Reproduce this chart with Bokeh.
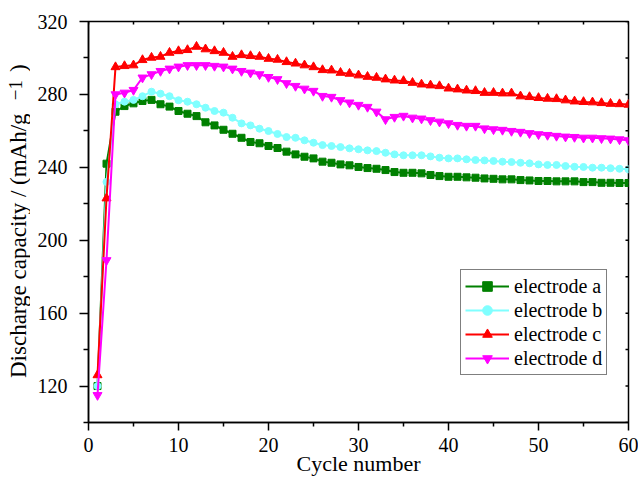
import math

from bokeh.plotting import figure
from bokeh.models import FixedTicker, Range1d, Label
from bokeh.layouts import row
from bokeh.embed import file_html
from bokeh.resources import INLINE

cycles = list(range(1, 61))

electrode_a = [120, 242, 270.5, 273.6, 275.1, 276.4, 277, 274.6, 273.3, 270.9,
               269.4, 268.1, 264.7, 263, 260.6, 258.4, 256.2, 253.9, 253.2, 251.7,
               250.6, 248.6, 247.1, 245.8, 244.9, 243.1, 242.5, 241.6, 241.1, 240.2,
               239.6, 239.2, 238.5, 237.4, 237, 237, 236.7, 235.8, 235.2, 234.8,
               234.8, 234.5, 234.3, 233.9, 233.7, 233.4, 233.4, 233, 232.8, 232.5,
               232.5, 232.3, 232.3, 232.3, 231.9, 231.9, 231.5, 231.5, 231.4, 231.4]

electrode_b = [120, 232, 274.6, 276, 277, 279, 281.5, 280.4, 279, 276.8,
               276, 274.6, 272.7, 270.9, 270, 267.2, 264.1, 263, 261.2, 259.9,
               258.3, 256.6, 256.2, 254.8, 253.5, 252.2, 251.7, 251.1, 250.4, 249.9,
               249.3, 248.9, 248, 247.1, 246.6, 246.6, 246.6, 246, 245.3, 244.9,
               244.9, 244.4, 244, 243.8, 243.5, 243.1, 242.9, 242.5, 242.2, 241.6,
               241.3, 241.3, 240.7, 240.3, 240.2, 239.8, 239.8, 239.5, 239.2, 238.9]

electrode_c = [126, 223, 295, 295.6, 296, 298.9, 300.2, 300.7, 302.9, 303.8,
               304.4, 306.2, 304.8, 303.8, 302.9, 300.7, 301.6, 301.1, 300.7, 299.6,
               299.1, 297.8, 297, 296, 295, 293.4, 293.2, 291.9, 291.4, 290.5,
               289.7, 289.2, 288.3, 287.7, 287.4, 286.4, 285.5, 285, 284.6, 283.3,
               282.8, 282.2, 281.9, 280.9, 280.9, 280.6, 280.6, 279, 278.6, 278.1,
               277.7, 277.5, 276.8, 276.2, 275.9, 275.7, 275.3, 274.9, 274.7, 274.4]

electrode_d = [115, 189, 280, 280.9, 282.4, 289.2, 291, 292.8, 294.1, 295.2,
               296, 296, 296, 295.6, 295.2, 294.1, 292.8, 291.9, 291, 289.5,
               288.3, 286.1, 284.6, 283.1, 281.9, 279.1, 278.6, 276.8, 275.5, 274.2,
               273.1, 270.5, 266.3, 267.6, 268.2, 267.2, 266.7, 265.8, 265, 264.1,
               263.2, 262.7, 262.7, 261.3, 260.8, 260.5, 259.9, 259.4, 258.7, 258.1,
               257.7, 257.2, 256.8, 256.6, 256.2, 256.2, 255.9, 255.7, 255.3, 254.8]

x_ticks = [0, 10, 20, 30, 40, 50, 60]
x_minor = [5, 15, 25, 35, 45, 55]
y_ticks = [120, 160, 200, 240, 280, 320]
y_minor = [100, 140, 180, 220, 260, 300]

FONT = "Liberation Serif"

X_MIN, X_MAX = 0, 60
Y_MIN, Y_MAX = 100, 320
TOP, BOTTOM = 21, 56
TITLE_W = 30  # width of the strip that carries the y-axis title

p = figure(width=638 - TITLE_W, height=478, output_backend="svg",
           toolbar_location=None,
           x_range=Range1d(X_MIN, X_MAX), y_range=Range1d(Y_MIN, Y_MAX),
           min_border_left=88 - TITLE_W, min_border_right=10,
           min_border_top=TOP, min_border_bottom=BOTTOM)

p.xgrid.visible = False
p.ygrid.visible = False
p.outline_line_color = "black"
p.outline_line_width = 1.5

series = [
    ("electrode a", electrode_a, "#008000", "square", 7),
    ("electrode b", electrode_b, "#80FFFF", "circle", 7),
    ("electrode c", electrode_c, "#FF0000", "triangle", 9),
    ("electrode d", electrode_d, "#FF00FF", "inverted_triangle", 9),
]

for name, vals, color, marker, size in series:
    p.line(cycles, vals, line_color=color, line_width=2, legend_label=name)
    p.scatter(cycles, vals, marker=marker, size=size, fill_color=color,
              line_color=color, legend_label=name)

for ax in (p.xaxis[0], p.yaxis[0]):
    ax.axis_line_width = 1.5
    ax.major_tick_line_width = 1.5
    ax.minor_tick_line_width = 1.5
    ax.major_tick_in = 0
    ax.minor_tick_in = 0
    ax.major_label_text_font = FONT
    ax.major_label_text_font_size = "20px"
    ax.major_label_text_color = "black"
    ax.axis_label_text_font = FONT
    ax.axis_label_text_font_size = "22px"
    ax.axis_label_text_font_style = "normal"
    ax.axis_label_text_color = "black"

p.xaxis.ticker = FixedTicker(ticks=x_ticks, minor_ticks=x_minor)
p.yaxis.ticker = FixedTicker(ticks=y_ticks, minor_ticks=y_minor)
p.xaxis.major_tick_out = 8
p.xaxis.minor_tick_out = 4
p.yaxis.major_tick_out = 9
p.yaxis.minor_tick_out = 5
p.xaxis.axis_label = "Cycle number"
p.xaxis.major_label_standoff = 7
p.xaxis.axis_label_standoff = -4
p.yaxis.major_label_standoff = 12

# short inward ticks along the top and right frame edges; the outer half
# of each dash is clipped by the frame
top_x = sorted(x_ticks + x_minor)
right_y = sorted(y_ticks + y_minor)
p.scatter(top_x, [Y_MAX] * len(top_x), marker="dash", size=6,
          angle=math.pi / 2, line_color="black", line_width=1.5)
p.scatter([X_MAX] * len(right_y), right_y, marker="dash", size=6,
          line_color="black", line_width=1.5)

leg = p.legend[0]
leg.location = (372, 47)
leg.border_line_color = "black"
leg.border_line_width = 1.5
leg.background_fill_alpha = 1
leg.label_text_font = FONT
leg.label_text_font_size = "20px"
leg.label_text_color = "black"
leg.glyph_width = 44
leg.glyph_height = 24
leg.label_height = 24
leg.label_standoff = 5
leg.spacing = 0
leg.padding = 4
leg.margin = 0

# narrow strip to the left holding the rotated y-axis title, sharing the
# same vertical scale as the main plot
t = figure(width=TITLE_W, height=478, output_backend="svg",
           toolbar_location=None,
           x_range=Range1d(0, TITLE_W), y_range=Range1d(Y_MIN, Y_MAX),
           min_border_left=0, min_border_right=0,
           min_border_top=TOP, min_border_bottom=BOTTOM)
t.axis.visible = False
t.grid.visible = False
t.outline_line_color = None

title_parts = [
    ("Discharge capacity / (mAh/g", 18, 124.4, "23px"),
    ("\u22121", 15, 276.8, "19px"),
    (")", 18, 292.3, "23px"),
]
for text, tx, ty, size in title_parts:
    t.add_layout(Label(x=tx, y=ty, text=text, angle=math.pi / 2,
                       text_font=FONT, text_font_size=size,
                       text_color="black", text_align="left",
                       text_baseline="middle"))

layout = row(t, p, spacing=0)

open("out.html", "w").write(file_html(layout, INLINE))
